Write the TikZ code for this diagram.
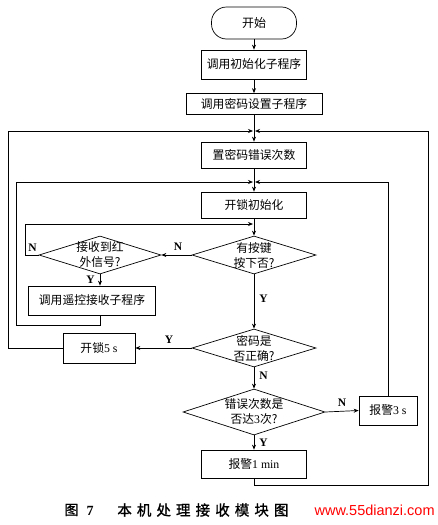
\documentclass[tikz,border=0pt]{standalone}
\usepackage{fontspec}
\setmainfont{Liberation Serif}
\newfontfamily\cjk{Noto Sans CJK SC}
\newfontfamily\cjkcap[LetterSpace=35, FakeBold=1.2]{Noto Sans CJK SC}
\usetikzlibrary{shapes.geometric,arrows.meta}

\begin{document}
\begin{tikzpicture}[x=1pt, y=-1pt, line width=0.7pt, >={Stealth[length=5pt,width=4pt]},
    startbox/.style = {draw, rounded corners=15pt, minimum width=85pt, minimum height=32pt, inner sep=0pt, font=\fontsize{12}{14}\selectfont\cjk},
    box/.style = {draw, rectangle, minimum width=105pt, minimum height=27pt, inner sep=0pt, font=\fontsize{11.8}{14}\selectfont\cjk},
    test/.style = {draw, diamond, inner sep=0pt, minimum width=124pt, minimum height=38pt},
    ttext/.style = {font=\fontsize{11.8}{15}\selectfont\cjk, align=center, inner sep=0pt},
    yn/.style = {font=\fontsize{11.5}{13}\selectfont\bfseries, inner sep=0pt} ]
    \useasboundingbox (0,0) rectangle (437,525);

    % main column
    \node at (254, 23) [startbox] (start) {开始};
    \node at (254, 64.5) [box, minimum height=29pt] (init) {调用初始化子程序};
    \node at (254, 104) [box, minimum width=136pt, minimum height=21pt] (pwset) {调用密码设置子程序};
    \node at (254, 155) [box, minimum height=26pt] (errset) {置密码错误次数};
    \node at (254, 205) [box, minimum height=26pt] (lockinit) {开锁初始化};
    \node at (254, 255) [test, label={[ttext]center:有按键\\按下否?}] (key) {};
    \node at (100, 255) [test, minimum width=122pt, label={[ttext]center:接收到红\\外信号?}] (ir) {};
    \node at (92, 300.5) [box, minimum width=127pt, minimum height=29pt] (remote) {调用遥控接收子程序};
    \node at (254, 348) [test, label={[ttext]center:密码是\\否正确?}] (pwok) {};
    \node at (99, 348) [box, minimum width=72pt, minimum height=30pt] (open) {开锁{\rmfamily 5 s}};
    \node at (254, 412) [test, minimum width=142pt, minimum height=46pt, label={[ttext]center:错误次数是\\否达{\rmfamily 3}次?}] (three) {};
    \node at (388, 410.5) [box, minimum width=58pt, minimum height=29pt] (alarm3) {报警{\rmfamily 3 s}};
    \node at (254, 464) [box, minimum height=28pt] (alarm1) {报警{\rmfamily 1 min}};

    % merge points
    \coordinate (m1) at (254, 131);
    \coordinate (m2) at (254, 182);
    \coordinate (m3) at (254, 224);

    \draw[->] (start) -- (init);
    \draw[->] (init) -- (pwset);
    \draw[->] (pwset) -- (errset);
    \draw[->] (errset) -- (lockinit);
    \draw[->] (lockinit) -- (key);
    \draw[->] (key) -- node[yn, pos=0.45, right=5pt] {Y} (pwok);
    \draw[->] (pwok) -- node[yn, pos=0.4, right=5pt] {N} (three);
    \draw[->] (three) -- node[yn, pos=0.5, right=5pt] {Y} (alarm1);
    \draw[->] (key.west) -- node[yn, above=4pt, pos=0.45] {N} (ir.east);
    \draw[->] (ir.south) -- node[yn, left=5pt, pos=0.45] {Y} (ir.south |- remote.north);
    \draw[->] (pwok.west) -- node[yn, above=4pt, pos=0.4] {Y} (open.east);
    \draw[->] (three.east) -- node[yn, above=4pt, pos=0.5] {N} (alarm3.west);

    % loops back
    \draw[->] (ir.west) -- (25, 255) node[yn, above right=3pt] {N} -- (25, 224) -- ([xshift=-1pt]m3);
    \draw[->] (remote.south -| ir.south) -- (100, 325) -- (16, 325) -- (16, 182) -- ([xshift=-1pt]m2);
    \draw[->] (alarm3.north) -- (388, 182) -- ([xshift=1pt]m2);
    \draw[->] (open.west) -- (8, 348) -- (8, 131) -- ([xshift=-1pt]m1);
    \draw[->] (alarm1.south) -- (254, 485) -- (428, 485) -- (428, 131) -- ([xshift=1pt]m1);

    % caption
    \node at (79, 510) [font=\fontsize{14}{16}\selectfont\cjkcap] (fig) {图\ {\rmfamily\bfseries 7}};
    \node at (117, 510) [anchor=west, inner sep=0pt, font=\fontsize{14.5}{16}\selectfont\cjkcap] (title) {本机处理接收模块图};
    \node at (435, 510) [anchor=east, inner sep=0pt, text=red, font=\fontsize{14.5}{16}\selectfont\fontspec{Liberation Sans}] (site) {www.55dianzi.com};
\end{tikzpicture}
\end{document}
